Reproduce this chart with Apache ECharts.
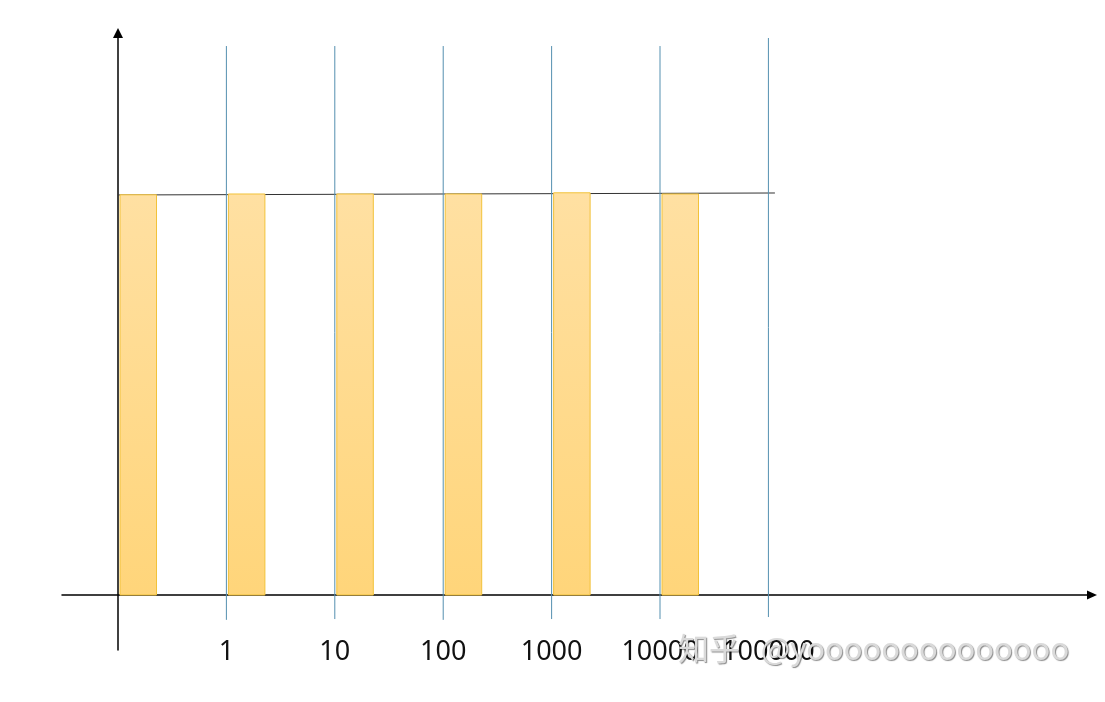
<!DOCTYPE html>
<html>
<head>
<meta charset="utf-8">
<script src="https://cdn.jsdelivr.net/npm/echarts@6/dist/echarts.min.js"></script>
<style>
  html, body { margin: 0; padding: 0; background: #ffffff; }
  #chart { width: 1105px; height: 702px; }
</style>
</head>
<body>
<div id="chart"></div>
<script>
// ---- data ----
const barPositions = [0, 1, 2, 3, 4, 5];
const barValues = [0.998, 1.0, 1.0, 1.0, 1.003, 1.0];
const tickPositions = [1, 2, 3, 4, 5, 6];
const tickLabels = ['1', '10', '100', '1000', '10000', '100000'];
const tickLineTop = [1.369, 1.369, 1.369, 1.369, 1.369, 1.389];
const tickLineBottom = [-0.062, -0.06, -0.062, -0.06, -0.06, -0.055];
const levelLine = [[0, 0.9975], [6.06, 1.0025]];
const watermark = '知乎   @yoooooooooooooo';

const chart = echarts.init(document.getElementById('chart'), null, { renderer: 'canvas' });

const barData = barPositions.map((x, i) => [x, barValues[i]]);
const tickData = tickPositions.map((x, i) => [x, tickLineTop[i], tickLineBottom[i], tickLabels[i]]);

const barFill = new echarts.graphic.LinearGradient(0, 0, 0, 1, [
  { offset: 0, color: '#FFE0A2' },
  { offset: 1, color: '#FFD57A' }
]);

const option = {
  animation: false,
  backgroundColor: '#ffffff',
  grid: { left: 62, right: 13, top: 33, bottom: 52, containLabel: false },
  xAxis: {
    type: 'value',
    min: -0.5166,
    max: 8.985,
    axisLine: {
      show: true, onZero: true,
      symbol: ['none', 'triangle'], symbolSize: [9, 10],
      lineStyle: { color: '#000000', width: 1.5 }
    },
    axisTick: { show: false },
    axisLabel: { show: false },
    splitLine: { show: false }
  },
  yAxis: {
    type: 'value',
    min: -0.1372,
    max: 1.4015,
    axisLine: {
      show: true, onZero: true,
      symbol: ['none', 'triangle'], symbolSize: [10, 10],
      lineStyle: { color: '#000000', width: 1.5 }
    },
    axisTick: { show: false },
    axisLabel: { show: false },
    splitLine: { show: false }
  },
  series: [
    {
      type: 'line',
      data: levelLine,
      symbol: 'none',
      z: 1,
      lineStyle: { color: '#333333', width: 1 }
    },
    {
      type: 'custom',
      data: tickData,
      z: 3,
      clip: false,
      renderItem: function (params, api) {
        const x = api.value(0);
        const top = api.coord([x, api.value(1)]);
        const bot = api.coord([x, api.value(2)]);
        const zero = api.coord([x, 0]);
        return {
          type: 'group',
          children: [
            {
              type: 'line',
              shape: { x1: top[0], y1: top[1], x2: bot[0], y2: bot[1] },
              style: { stroke: '#5590B0', lineWidth: 1 }
            },
            {
              type: 'text',
              x: zero[0],
              y: zero[1] + 57,
              style: {
                text: tickLabels[params.dataIndex],
                fill: '#111111',
                font: '27px "Noto Sans", sans-serif',
                align: 'center',
                verticalAlign: 'middle'
              }
            }
          ]
        };
      }
    },
    {
      type: 'custom',
      data: barData,
      z: 2,
      renderItem: function (params, api) {
        const x = api.value(0);
        const p0 = api.coord([x, 0]);
        const p1 = api.coord([x, api.value(1)]);
        return {
          type: 'rect',
          shape: { x: p0[0] + 2, y: p1[1], width: 36.5, height: p0[1] - p1[1] },
          style: { fill: barFill, stroke: '#F2C23A', lineWidth: 1 }
        };
      }
    }
  ],
  graphic: [
    {
      type: 'text',
      left: 678,
      top: 633,
      z: 100,
      style: {
        text: watermark,
        font: '31px "Noto Sans CJK SC", "Noto Sans", sans-serif',
        fill: '#dadada',
        textShadowColor: 'rgba(0,0,0,0.45)',
        textShadowBlur: 1,
        textShadowOffsetX: 1,
        textShadowOffsetY: 1
      }
    }
  ]
};

chart.setOption(option);
</script>
</body>
</html>
